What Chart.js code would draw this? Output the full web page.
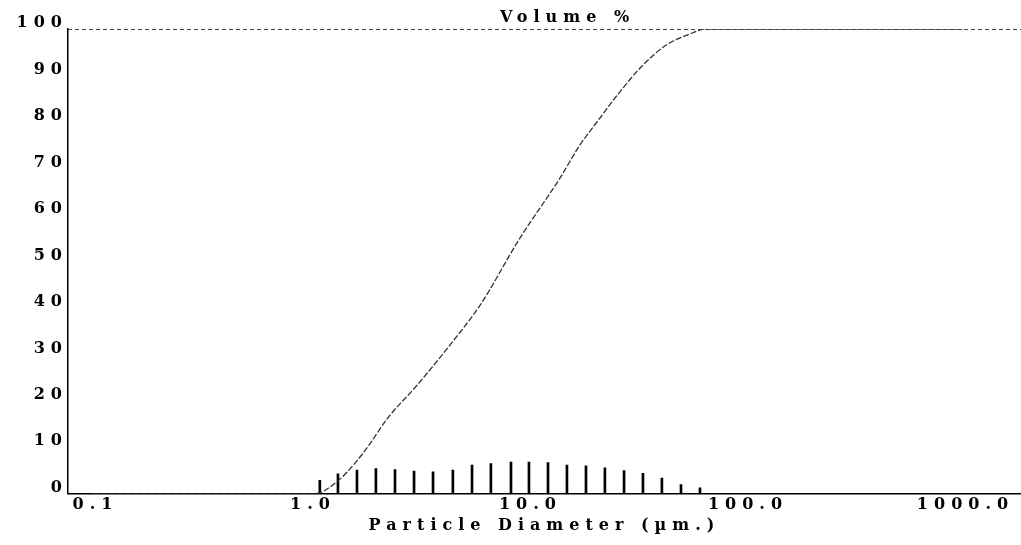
<!DOCTYPE html>
<html>
<head>
<meta charset="utf-8">
<script src="https://cdn.jsdelivr.net/npm/chart.js@4/dist/chart.umd.min.js"></script>
<style>
  html, body { margin: 0; padding: 0; background: #fff; }
  #wrap { width: 1021px; height: 545px; }
</style>
</head>
<body>
<div id="wrap"><canvas id="sizeChart"></canvas></div>
<script>
// channel diameters (um) and differential volume %
const channelSizes = [1.11, 1.345, 1.645, 2.01, 2.46, 3.01, 3.68, 4.54, 5.56, 6.79, 8.40,
                      10.16, 12.43, 15.19, 18.58, 22.7, 27.8, 33.96, 41.5, 50.8, 62.1]
const channelVolume = [2.9, 4.3, 5.1, 5.4, 5.2, 4.9, 4.7, 5.1, 6.2, 6.5, 6.8,
                       6.8, 6.7, 6.2, 6.0, 5.6, 5.0, 4.4, 3.4, 2.0, 1.3]

// cumulative volume % curve
const cumSizes = [0.1, 1.05, 1.345, 1.645, 1.89, 2.26, 3.10, 4.54, 6.04, 9.23, 14.1,
                  17.4, 21.5, 25.2, 33.9, 43.6, 54.3, 66.5, 1000]
const cumVolume = [0, 0, 2.8, 7.1, 10.8, 16.1, 23.3, 32.8, 40.5, 55.0, 67.9,
                   75.0, 80.8, 85.1, 92.2, 96.6, 98.7, 100, 100]

const xTicks = [0.1, 1, 10, 100, 1000]
const yTicks = [0, 10, 20, 30, 40, 50, 60, 70, 80, 90, 100]

const FONT = 'DejaVu Serif'
const SPACING = '6px'

// wide lettering like the instrument printout, dotted frame line on top, title
const spacedText = {
    id: 'spacedText',
    beforeDraw: (chart) => {
        chart.ctx.letterSpacing = SPACING
    },
    afterDraw: (chart) => {
        const {ctx, chartArea} = chart
        ctx.save()
        ctx.strokeStyle = '#444'
        ctx.lineWidth = 1
        ctx.setLineDash([4, 3])
        ctx.beginPath()
        ctx.moveTo(chartArea.left, chartArea.top + 0.5)
        ctx.lineTo(chartArea.right, chartArea.top + 0.5)
        ctx.stroke()
        ctx.setLineDash([])
        ctx.letterSpacing = SPACING
        ctx.font = 'bold 16px "' + FONT + '"'
        ctx.fillStyle = '#000'
        ctx.textAlign = 'center'
        ctx.textBaseline = 'middle'
        ctx.fillText('Volume %', (chartArea.left + chartArea.right) / 2 + 23, 18)
        ctx.restore()
    }
}

const isPlateau = (seg) => seg.p0.parsed.y >= 100 && seg.p1.parsed.y >= 100

new Chart(document.getElementById('sizeChart'), {
    data: {
        datasets: [
            {
                type: 'line',
                label: 'Cumulative',
                data: cumSizes.map((s, i) => ({ x: s, y: cumVolume[i] })),
                borderColor: '#333',
                borderWidth: 1.3,
                borderDash: [6, 2],
                pointRadius: 0,
                cubicInterpolationMode: 'monotone',
                fill: false,
                segment: {
                    borderDash: seg => isPlateau(seg) ? [] : undefined,
                    borderColor: seg => isPlateau(seg) ? '#666' : undefined,
                    borderWidth: seg => isPlateau(seg) ? 2 : undefined
                }
            },
            {
                type: 'bar',
                label: 'Differential',
                data: channelSizes.map((s, i) => ({ x: s, y: channelVolume[i] })),
                backgroundColor: '#000',
                barThickness: 2
            }
        ]
    },
    options: {
        responsive: true,
        maintainAspectRatio: false,
        animation: false,
        layout: { padding: { top: 29, bottom: 10, left: 0, right: 0 } },
        plugins: {
            legend: { display: false },
            tooltip: { enabled: false },
            title: { display: false }
        },
        scales: {
            x: {
                type: 'logarithmic',
                min: 0.0772,
                max: 1858,
                bounds: 'data',
                afterBuildTicks: (scale) => {
                    scale.ticks = xTicks.map(v => ({ value: v }))
                },
                grid: { display: false, drawTicks: false },
                border: { display: true, color: '#000', width: 1.5 },
                ticks: {
                    color: '#000',
                    padding: 3,
                    labelOffset: 3,
                    maxRotation: 0,
                    autoSkip: false,
                    font: { family: FONT, size: 16, weight: 'bold', lineHeight: 1.0 },
                    callback: (v) => Number(v).toFixed(1)
                },
                title: {
                    display: true,
                    text: 'Particle Diameter (µm.)',
                    color: '#000',
                    padding: { top: 0, bottom: 0 },
                    font: { family: FONT, size: 16, weight: 'bold', lineHeight: 1.2 }
                }
            },
            y: {
                min: 0,
                max: 100,
                afterBuildTicks: (scale) => {
                    scale.ticks = yTicks.map(v => ({ value: v }))
                },
                afterFit: (scale) => { scale.width = 68 },
                grid: { display: false, drawTicks: false },
                border: { display: true, color: '#000', width: 1.5 },
                ticks: {
                    color: '#000',
                    padding: 0,
                    labelOffset: -6,
                    font: { family: FONT, size: 16, weight: 'bold' }
                }
            }
        }
    },
    plugins: [spacedText]
})
</script>
</body>
</html>
